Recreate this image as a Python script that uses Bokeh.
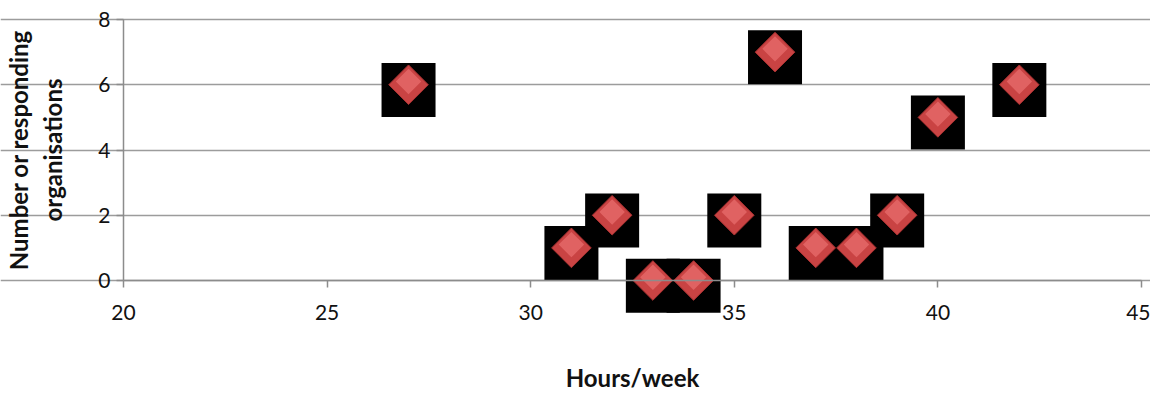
import math
from bokeh.plotting import figure
from bokeh.models import ColumnDataSource, Range1d, FixedTicker
from bokeh.transform import dodge
from bokeh.embed import file_html
from bokeh.resources import INLINE

hours = [27, 31, 32, 33, 34, 35, 36, 37, 38, 39, 40, 42]
organisations = [6, 1, 2, 0, 0, 2, 7, 1, 1, 2, 5, 6]
x_ticks = [20, 25, 30, 35, 40, 45]
y_ticks = [0, 2, 4, 6, 8]

src = ColumnDataSource(dict(x=hours, y=organisations))

FONT = "Lato"
W, H = 1150, 392
# plot area placement (pixels): x 20->123, 45->1141 ; y 8->19, 0->280
px_x = (1141 - 123) / 25.0
px_y = (280 - 19) / 8.0
x0 = 20 - 123 / px_x
x1 = 45 + (W - 1141) / px_x
y1 = 8 + 19 / px_y
y0 = 0 - (H - 280) / px_y

p = figure(width=W, height=H, output_backend="svg", toolbar_location=None,
           x_range=Range1d(x0, x1), y_range=Range1d(y0, y1),
           min_border_left=0, min_border_right=0, min_border_top=0, min_border_bottom=0)
p.outline_line_color = None
p.background_fill_color = "white"
p.border_fill_color = "white"

p.xgrid.grid_line_color = None
p.ygrid.grid_line_color = "#9c9c9c"
p.ygrid.grid_line_width = 1.5
p.ygrid.bounds = (20, 45)
p.xaxis.ticker = FixedTicker(ticks=x_ticks)
p.yaxis.ticker = FixedTicker(ticks=y_ticks)

for ax in (p.xaxis[0], p.yaxis[0]):
    ax.axis_line_color = "#8c8c8c"
    ax.axis_line_width = 1.5
    ax.major_tick_line_color = "#8c8c8c"
    ax.major_tick_line_width = 1.5
    ax.major_tick_in = 0
    ax.major_tick_out = 7
    ax.minor_tick_line_color = None
    ax.major_label_text_font = FONT
    ax.major_label_text_font_size = "21px"
    ax.major_label_text_color = "#111111"
    ax.axis_label_text_font = FONT
    ax.axis_label_text_font_style = "bold"
    ax.axis_label_text_font_size = "24px"
    ax.axis_label_text_color = "#111111"

p.xaxis.fixed_location = 0
p.yaxis.fixed_location = 20
p.xaxis.bounds = (20, 45)
p.yaxis.bounds = (0, 8)
p.xaxis.major_label_standoff = 17
p.yaxis.major_label_standoff = 6
p.xaxis.axis_label = "Hours/week"
p.xaxis.axis_label_standoff = 40
p.yaxis.axis_label = "Number or responding\norganisations"
p.yaxis.axis_label_standoff = 28

# black square background (shadow-like, offset slightly down)
p.scatter(x="x", y=dodge("y", -0.16, range=p.y_range), source=src, marker="square",
          size=54, fill_color="black", line_color=None)
# red diamond
p.scatter(x="x", y="y", source=src, marker="square", angle=math.pi / 4,
          size=28, fill_color="#c94343", line_color="#a83232", line_width=1)
# lighter upper highlight
p.scatter(x="x", y=dodge("y", 0.1, range=p.y_range), source=src, marker="square",
          angle=math.pi / 4, size=18, fill_color="#e66a6a", line_color=None, fill_alpha=0.8)

open("out.html", "w").write(file_html(p, INLINE))
